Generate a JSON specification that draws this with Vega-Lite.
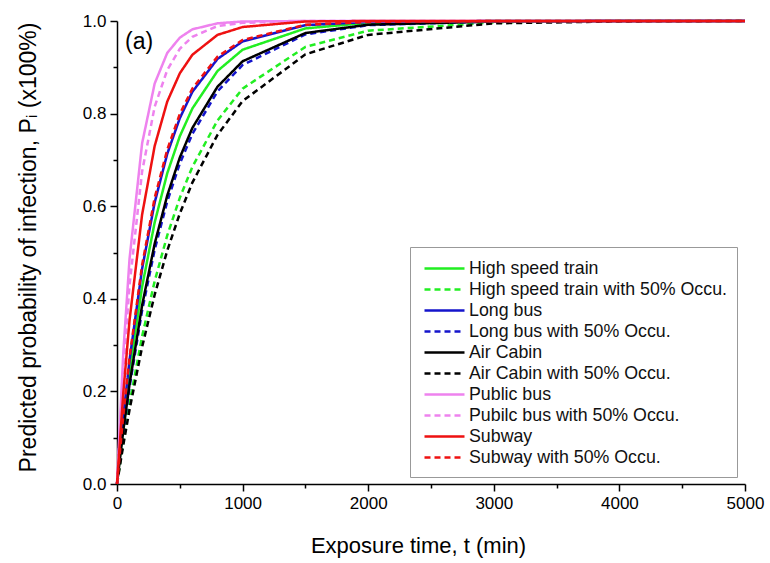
{
  "$schema": "https://vega.github.io/schema/vega-lite/v6.json",
  "width": 628,
  "height": 463,
  "autosize": {"type": "none"},
  "padding": {"left": 117, "top": 21, "right": 25, "bottom": 79},
  "background": "white",
  "config": {
    "view": {"stroke": null},
    "font": "Liberation Sans",
    "axis": {
      "grid": false,
      "domainColor": "black",
      "domainWidth": 1.5,
      "tickColor": "black",
      "tickWidth": 1.5,
      "labelColor": "black",
      "titleColor": "black",
      "labelFontSize": 17,
      "titleFontSize": 22,
      "titleFontWeight": "normal",
      "labelFlush": false,
      "labelOverlap": false,
      "labelPadding": 4
    },
    "legend": {
      "title": null,
      "orient": "none",
      "legendX": 293,
      "legendY": 226,
      "symbolType": "M-0.7,0H3.3",
      "symbolSize": 400,
      "symbolStrokeWidth": 2.5,
      "labelFontSize": 17.8,
      "labelColor": "#111",
      "labelLimit": 400,
      "labelOffset": 26,
      "rowPadding": 0,
      "padding": 10,
      "strokeColor": "#999",
      "fillColor": "white"
    }
  },
  "layer": [
    {
      "data": {
        "values": [
          {"t": 0, "PB": 0, "PB50": 0, "SW": 0, "SW50": 0, "LB": 0, "LB50": 0, "HST": 0, "HST50": 0, "AC": 0, "AC50": 0},
          {"t": 50, "PB": 0.283, "PB50": 0.245, "SW": 0.196, "SW50": 0.148, "LB": 0.145, "LB50": 0.111, "HST": 0.130, "HST50": 0.092, "AC": 0.115, "AC50": 0.084},
          {"t": 100, "PB": 0.487, "PB50": 0.430, "SW": 0.354, "SW50": 0.274, "LB": 0.268, "LB50": 0.210, "HST": 0.243, "HST50": 0.175, "AC": 0.216, "AC50": 0.161},
          {"t": 200, "PB": 0.736, "PB50": 0.675, "SW": 0.582, "SW50": 0.473, "LB": 0.465, "LB50": 0.375, "HST": 0.426, "HST50": 0.319, "AC": 0.386, "AC50": 0.296},
          {"t": 300, "PB": 0.865, "PB50": 0.815, "SW": 0.730, "SW50": 0.618, "LB": 0.608, "LB50": 0.506, "HST": 0.565, "HST50": 0.438, "AC": 0.519, "AC50": 0.409},
          {"t": 400, "PB": 0.931, "PB50": 0.894, "SW": 0.826, "SW50": 0.722, "LB": 0.713, "LB50": 0.610, "HST": 0.671, "HST50": 0.537, "AC": 0.623, "AC50": 0.504},
          {"t": 500, "PB": 0.964, "PB50": 0.940, "SW": 0.887, "SW50": 0.799, "LB": 0.790, "LB50": 0.692, "HST": 0.751, "HST50": 0.618, "AC": 0.705, "AC50": 0.584},
          {"t": 600, "PB": 0.982, "PB50": 0.966, "SW": 0.927, "SW50": 0.854, "LB": 0.847, "LB50": 0.756, "HST": 0.811, "HST50": 0.685, "AC": 0.769, "AC50": 0.651},
          {"t": 800, "PB": 0.995, "PB50": 0.989, "SW": 0.970, "SW50": 0.923, "LB": 0.918, "LB50": 0.848, "HST": 0.892, "HST50": 0.785, "AC": 0.858, "AC50": 0.754},
          {"t": 1000, "PB": 0.999, "PB50": 0.996, "SW": 0.987, "SW50": 0.959, "LB": 0.956, "LB50": 0.905, "HST": 0.938, "HST50": 0.854, "AC": 0.913, "AC50": 0.827},
          {"t": 1500, "PB": 1, "PB50": 1, "SW": 0.999, "SW50": 0.992, "LB": 0.991, "LB50": 0.971, "HST": 0.984, "HST50": 0.944, "AC": 0.974, "AC50": 0.928},
          {"t": 2000, "PB": 1, "PB50": 1, "SW": 1, "SW50": 0.998, "LB": 0.998, "LB50": 0.991, "HST": 0.996, "HST50": 0.979, "AC": 0.992, "AC50": 0.970},
          {"t": 3000, "PB": 1, "PB50": 1, "SW": 1, "SW50": 1, "LB": 1, "LB50": 0.999, "HST": 1, "HST50": 0.997, "AC": 0.999, "AC50": 0.995},
          {"t": 4000, "PB": 1, "PB50": 1, "SW": 1, "SW50": 1, "LB": 1, "LB50": 1, "HST": 1, "HST50": 1, "AC": 1, "AC50": 0.999},
          {"t": 5000, "PB": 1, "PB50": 1, "SW": 1, "SW50": 1, "LB": 1, "LB50": 1, "HST": 1, "HST50": 1, "AC": 1, "AC50": 1}
        ]
      },
      "transform": [
        {"fold": ["HST", "HST50", "LB", "LB50", "AC", "AC50", "PB", "PB50", "SW", "SW50"], "as": ["k", "P"]},
        {
          "lookup": "k",
          "from": {
            "data": {
              "values": [
                {"k": "HST", "name": "High speed train"},
                {"k": "HST50", "name": "High speed train with 50% Occu."},
                {"k": "LB", "name": "Long bus"},
                {"k": "LB50", "name": "Long bus with 50% Occu."},
                {"k": "AC", "name": "Air Cabin"},
                {"k": "AC50", "name": "Air Cabin with 50% Occu."},
                {"k": "PB", "name": "Public bus"},
                {"k": "PB50", "name": "Pubilc bus with 50% Occu."},
                {"k": "SW", "name": "Subway"},
                {"k": "SW50", "name": "Subway with 50% Occu."}
              ]
            },
            "key": "k",
            "fields": ["name"]
          }
        }
      ],
      "mark": {"type": "line", "strokeWidth": 2.5},
      "encoding": {
        "x": {
          "field": "t",
          "type": "quantitative",
          "scale": {"domain": [0, 5000], "nice": false},
          "axis": {
            "values": [0, 500, 1000, 1500, 2000, 2500, 3000, 3500, 4000, 4500, 5000],
            "format": "d",
            "labelExpr": "datum.value % 1000 == 0 ? datum.label : ''",
            "tickSize": {"condition": {"test": "datum.value % 1000 == 0", "value": 7}, "value": 4},
            "title": "Exposure time, t (min)",
            "titlePadding": 24,
            "titleX": 301
          }
        },
        "y": {
          "field": "P",
          "type": "quantitative",
          "scale": {"domain": [0, 1], "nice": false},
          "axis": {
            "values": [0, 0.1, 0.2, 0.3, 0.4, 0.5, 0.6, 0.7, 0.8, 0.9, 1.0],
            "labelExpr": "round(datum.value*10) % 2 == 0 ? format(datum.value, '.1f') : ''",
            "tickSize": {"condition": {"test": "round(datum.value*10) % 2 == 0", "value": 7}, "value": 4},
            "title": "Predicted probability of infection, Pᵢ (x100%)",
            "titleFontSize": 23,
            "titlePadding": 42,
            "titleY": 226
          }
        },
        "color": {
          "field": "name",
          "type": "nominal",
          "scale": {
            "domain": ["High speed train", "High speed train with 50% Occu.", "Long bus", "Long bus with 50% Occu.", "Air Cabin", "Air Cabin with 50% Occu.", "Public bus", "Pubilc bus with 50% Occu.", "Subway", "Subway with 50% Occu."],
            "range": ["#22ee22", "#22ee22", "#1414cc", "#1414cc", "#000000", "#000000", "#ee82ee", "#ee82ee", "#ee1111", "#ee1111"]
          }
        },
        "strokeDash": {
          "field": "name",
          "type": "nominal",
          "scale": {
            "domain": ["High speed train", "High speed train with 50% Occu.", "Long bus", "Long bus with 50% Occu.", "Air Cabin", "Air Cabin with 50% Occu.", "Public bus", "Pubilc bus with 50% Occu.", "Subway", "Subway with 50% Occu."],
            "range": [[1, 0], [6, 4], [1, 0], [6, 4], [1, 0], [6, 4], [1, 0], [6, 4], [1, 0], [6, 4]]
          }
        }
      }
    },
    {
      "data": {"values": [{}]},
      "mark": {"type": "text", "align": "left", "baseline": "middle", "fontSize": 23, "color": "black"},
      "encoding": {
        "x": {"datum": 64},
        "y": {"datum": 0.955},
        "text": {"value": "(a)"}
      }
    }
  ]
}
